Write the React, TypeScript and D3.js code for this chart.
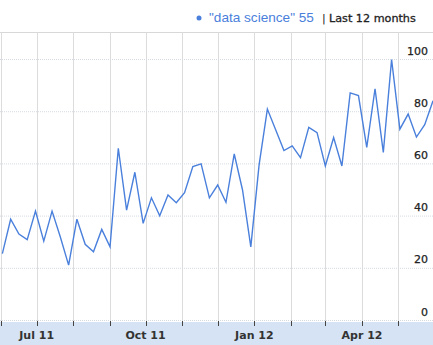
import React from "react";
import * as d3 from "d3";

const W = 433;
const H = 345;

const startDate = new Date(2011, 5, 2);
const values: number[] = [
  25.6, 38.8, 33.1, 31, 41.9, 30.4, 41.9, 32, 21.2, 38.8, 29.2, 26.3, 34.9, 28.2,
  66, 42.3, 56.8, 37.2, 47, 40.1, 48.1, 45.1, 49, 59, 60, 47, 51.9, 45.3, 63.8,
  50, 28.2, 59.6, 81, 73.1, 65.1, 66.9, 62.4, 74, 72, 59.2, 70.1, 59.2, 87.2,
  86.2, 66.3, 88.8, 64.4, 100, 73.3, 79.1, 70.3, 75, 84.2,
];
const dates: Date[] = values.map((_, i) => d3.timeDay.offset(startDate, i * 7));
const yTicks = [0, 20, 40, 60, 80, 100];
const monthTicks: Date[] = d3.timeMonth.range(new Date(2011, 5, 1), new Date(2012, 5, 1));
const labelMonths = [new Date(2011, 6, 1), new Date(2011, 9, 1), new Date(2012, 0, 1), new Date(2012, 3, 1)];
const labelTexts = ["Jul 11", "Oct 11", "Jan 12", "Apr 12"];
const seriesName = '"data science" 55';
const rangeLabel = "Last 12 months";

export default function App() {
  const x = d3.scaleTime().domain([new Date(2011, 4, 31), new Date(2012, 4, 31)]).range([0, W]);
  const y = d3.scaleLinear().domain([0, 100]).range([320.5, 59.5]);
  const line = d3
    .line<number>()
    .x((_, i) => x(dates[i]))
    .y((d) => y(d));
  const top = 32.5;
  const bandTop = 322;
  const font = "'DejaVu Sans', Verdana, sans-serif";
  return (
    <svg width={W} height={H} style={{ position: "absolute", left: 0, top: 0, background: "#fff" }}>
      <line x1={0} x2={W} y1={top} y2={top} stroke="#d8d8d8" strokeWidth={1} />
      {monthTicks.map((d, i) => (
        <line key={"v" + i} x1={Math.round(x(d)) + 0.5} x2={Math.round(x(d)) + 0.5} y1={top} y2={bandTop} stroke="#dcdcdc" strokeWidth={1} />
      ))}
      {yTicks.map((t) => (
        <line key={"h" + t} x1={0} x2={W} y1={y(t)} y2={y(t)} stroke="#d6dbe3" strokeWidth={1} strokeDasharray="1,1" />
      ))}
      <rect x={0} y={bandTop} width={W} height={H - bandTop} fill="#d5e3f5" />
      {monthTicks.map((d, i) => (
        <line key={"t" + i} x1={Math.round(x(d)) + 0.5} x2={Math.round(x(d)) + 0.5} y1={bandTop - 1} y2={bandTop + 4} stroke="#444" strokeWidth={1} />
      ))}
      {labelMonths.map((d, i) => (
        <text key={"l" + i} x={x(d)} y={339} textAnchor="middle" fontFamily={font} fontSize={11} fill="#333" fontWeight="bold">
          {labelTexts[i]}
        </text>
      ))}
      <path d={line(values) || ""} fill="none" stroke="#4a80dc" strokeWidth={1.4} strokeLinejoin="miter" />
      {yTicks.map((t) => (
        <text key={"yl" + t} x={428} y={y(t) - 5} textAnchor="end" fontFamily={font} fontSize={11} fill="#222" stroke="#222" strokeWidth={0.25}>
          {t}
        </text>
      ))}
      <circle cx={199} cy={18} r={2.5} fill="#4a80dc" />
      <text x={209} y={22} fontFamily="'Liberation Sans', Arial, sans-serif" fontSize={13.6} fill="#4a80dc">
        {seriesName}
      </text>
      <text x={322} y={22} fontFamily={font} fontSize={11} fill="#222">|</text>
      <text x={329} y={22} fontFamily={font} fontSize={11.2} fill="#222" stroke="#222" strokeWidth={0.3}>
        {rangeLabel}
      </text>
    </svg>
  );
}
